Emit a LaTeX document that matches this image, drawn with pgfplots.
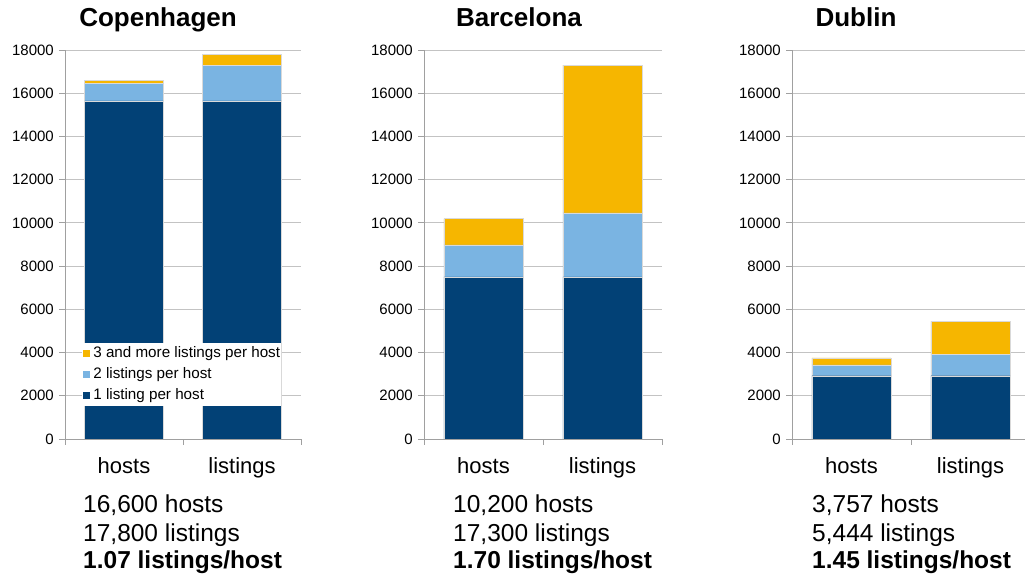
\documentclass[border=0pt]{standalone}
\usepackage{pgfplots}
\pgfplotsset{compat=1.18}
\usepackage{fontspec}
\setmainfont{Liberation Sans}
\definecolor{cdark}{RGB}{2,65,118}
\definecolor{clight}{RGB}{122,180,226}
\definecolor{cyell}{RGB}{246,182,0}
\definecolor{gridc}{RGB}{195,195,195}
\definecolor{axc}{RGB}{160,160,160}
\pgfplotsset{
  citystyle/.style={
    scale only axis, height=389bp, ymin=0, ymax=18000, xmin=-0.5,
    ybar stacked, bar width=0.667, bar shift=0pt,
    axis x line=bottom, axis y line=left,
    axis line style={draw=axc, line width=0.9bp, -},
    ytick={0,2000,...,18000},
    ymajorgrids, grid style={draw=gridc, line width=0.9bp},
    scaled y ticks=false,
    /pgf/number format/assume math mode=true,
    yticklabel style={/pgf/number format/fixed, /pgf/number format/1000 sep={},
      font=\fontsize{15bp}{17bp}\selectfont, inner sep=0pt, xshift=-5bp},
    tick align=outside, major tick length=6bp,
    tick style={draw=axc, line width=0.9bp},
    xtick={-0.5,0.5,1.5}, xticklabels={},
    extra x ticks={0,1}, extra x tick labels={hosts,listings},
    extra x tick style={major tick length=0pt,
      xticklabel style={font=\fontsize{22bp}{24bp}\selectfont, text height=15bp, inner sep=0pt, yshift=-19bp}},
    every axis plot/.append style={draw=white!85!black, line width=0.3bp},
  }
}
\newcommand{\bigtxt}{\fontsize{24.5bp}{28bp}\selectfont}
\newcommand{\ttl}{\fontsize{26bp}{30bp}\selectfont\bfseries}
\begin{document}
\begin{tikzpicture}
\useasboundingbox (0,0) rectangle (1025bp,579bp);
% Copenhagen
\begin{axis}[citystyle, at={(65bp,140bp)}, anchor=south west, width=236bp, xmax=1.5,
  legend style={at={(0.072,0.247)}, anchor=north west, draw=none, fill=white,
    font=\fontsize{15.2bp}{17bp}\selectfont, row sep=6bp, column sep=0pt, inner xsep=1bp, inner ysep=3bp,
    nodes={inner sep=0pt, text height=11bp, text depth=4bp}},
  legend cell align=left, reverse legend,
  legend image code/.code={\fill[#1, draw=none] (0bp,-3.5bp) rectangle (7bp,3.5bp); \path (10bp,0bp);}]
\addplot[fill=cdark] coordinates {(0,15650) (1,15650)};
\addlegendentry{1 listing per host}
\addplot[fill=clight] coordinates {(0,820) (1,1640)};
\addlegendentry{2 listings per host}
\addplot[fill=cyell] coordinates {(0,130) (1,510)};
\addlegendentry{3 and more listings per host}
\end{axis}
% Barcelona
\begin{axis}[citystyle, at={(424bp,140bp)}, anchor=south west, width=238bp, xmax=1.5]
\addplot[fill=cdark] coordinates {(0,7500) (1,7500)};
\addplot[fill=clight] coordinates {(0,1480) (1,2960)};
\addplot[fill=cyell] coordinates {(0,1220) (1,6840)};
\end{axis}
% Dublin
\begin{axis}[citystyle, at={(792bp,140bp)}, anchor=south west, width=233bp, xmax=1.458]
\addplot[fill=cdark] coordinates {(0,2930) (1,2930)};
\addplot[fill=clight] coordinates {(0,500) (1,1000)};
\addplot[fill=cyell] coordinates {(0,327) (1,1514)};
\end{axis}
% titles
\node[anchor=base, inner sep=0pt] at (158bp,552bp) {\ttl Copenhagen};
\node[anchor=base, inner sep=0pt] at (519bp,552bp) {\ttl Barcelona};
\node[anchor=base, inner sep=0pt] at (856bp,552bp) {\ttl Dublin};
% summaries
\node[anchor=base west, inner sep=0pt] at (83bp,66bp) {\bigtxt 16,600 hosts};
\node[anchor=base west, inner sep=0pt] at (83bp,38bp) {\bigtxt 17,800 listings};
\node[anchor=base west, inner sep=0pt] at (83bp,11bp) {\bigtxt\bfseries 1.07 listings/host};
\node[anchor=base west, inner sep=0pt] at (453bp,66bp) {\bigtxt 10,200 hosts};
\node[anchor=base west, inner sep=0pt] at (453bp,38bp) {\bigtxt 17,300 listings};
\node[anchor=base west, inner sep=0pt] at (453bp,11bp) {\bigtxt\bfseries 1.70 listings/host};
\node[anchor=base west, inner sep=0pt] at (812bp,66bp) {\bigtxt 3,757 hosts};
\node[anchor=base west, inner sep=0pt] at (812bp,38bp) {\bigtxt 5,444 listings};
\node[anchor=base west, inner sep=0pt] at (812bp,11bp) {\bigtxt\bfseries 1.45 listings/host};
\end{tikzpicture}
\end{document}
